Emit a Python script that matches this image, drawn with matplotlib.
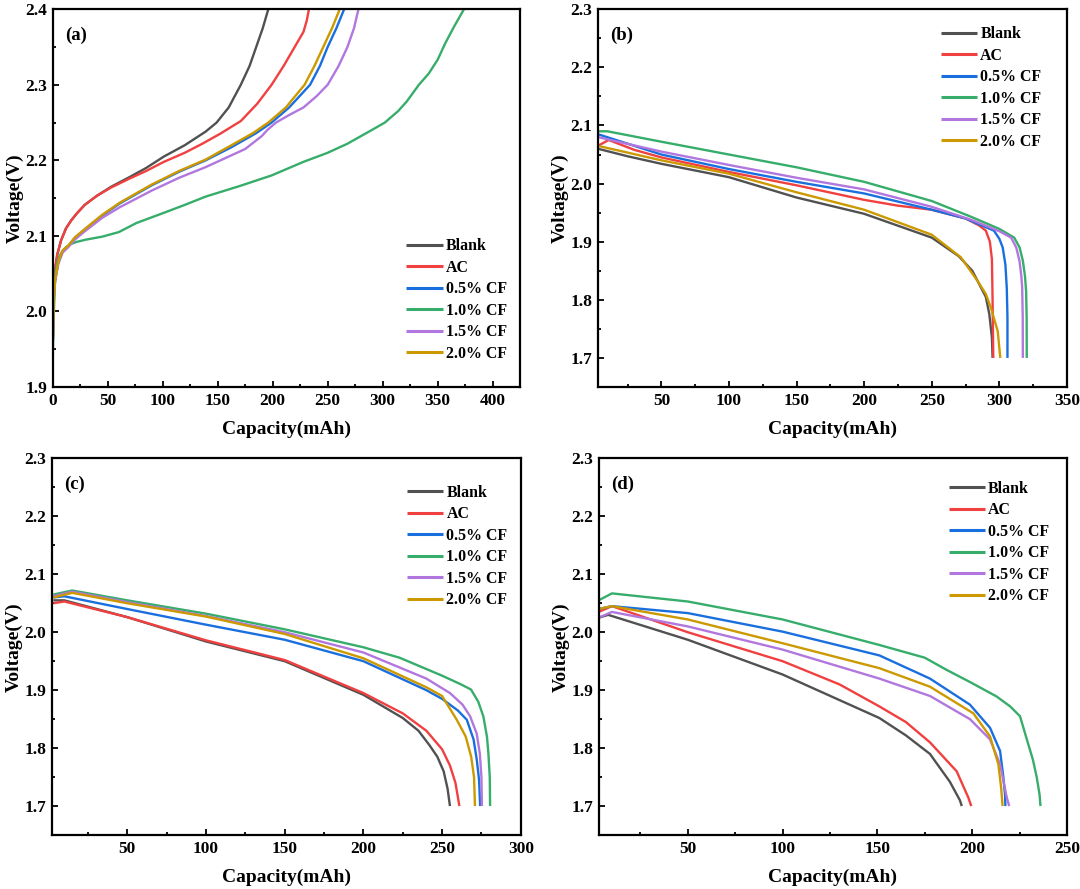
import numpy as np
import matplotlib.pyplot as plt
from matplotlib.ticker import MultipleLocator

plt.rcParams['font.family'] = ['Liberation Serif', 'DejaVu Serif']
plt.rcParams['font.weight'] = 'bold'

labels = ['Blank', 'AC', '0.5% CF', '1.0% CF', '1.5% CF', '2.0% CF']
colors = ['#515151', '#F14040', '#1A6FDF', '#37AD6B', '#B177DE', '#CC9900']

# (a) charge curves, [capacity (mAh), voltage (V)] pairs
a_blank = [[0, 1.96], [0.5, 2.0], [1, 2.03], [2, 2.055], [4, 2.075], [7.5, 2.094], [12, 2.11], [17, 2.121],
           [22, 2.13], [29, 2.141], [40, 2.153], [53, 2.165], [70, 2.178], [85, 2.19], [101, 2.205],
           [120, 2.22], [139, 2.238], [149, 2.25], [160, 2.27], [171, 2.3], [179, 2.325], [185, 2.35],
           [191, 2.375], [196, 2.4]]
a_ac = [[0, 1.96], [0.5, 2.0], [1, 2.03], [2, 2.055], [4, 2.075], [7.5, 2.094], [12, 2.11], [17, 2.121],
        [22, 2.13], [29, 2.141], [40, 2.153], [53, 2.164], [70, 2.176], [85, 2.186], [101, 2.198],
        [120, 2.21], [136, 2.222], [152, 2.235], [171, 2.252], [186, 2.275], [199, 2.3], [210, 2.325],
        [220, 2.35], [228, 2.37], [231, 2.385], [233, 2.4]]
a_cf05 = [[0, 1.96], [1, 2.02], [2, 2.04], [5, 2.065], [9, 2.08], [14, 2.086], [20, 2.097], [29, 2.108],
          [45, 2.127], [61, 2.143], [90, 2.167], [115, 2.185], [139, 2.2], [162, 2.217], [185, 2.236],
          [199, 2.25], [215, 2.27], [234, 2.3], [243, 2.325], [250, 2.35], [258, 2.375], [265, 2.4]]
a_cf10 = [[0, 1.94], [0.5, 1.98], [1, 2.0], [2, 2.04], [2.8, 2.055], [5, 2.07], [7.5, 2.077], [12, 2.085],
          [16, 2.089], [21.6, 2.092], [30, 2.095], [45, 2.099], [60, 2.105], [76, 2.117], [100, 2.13],
          [120, 2.141], [139, 2.152], [170, 2.166], [199, 2.18], [228, 2.198], [250, 2.21], [268, 2.222],
          [290, 2.24], [302, 2.25], [314, 2.265], [322, 2.278], [333, 2.3], [342, 2.315], [350, 2.333],
          [357, 2.355], [365, 2.377], [374, 2.4]]
a_cf15 = [[0, 1.96], [1, 2.02], [2, 2.04], [5, 2.063], [9, 2.078], [14, 2.085], [20, 2.095], [29, 2.106],
          [45, 2.124], [61, 2.138], [90, 2.16], [115, 2.177], [139, 2.191], [160, 2.205], [175, 2.215],
          [190, 2.232], [195, 2.24], [203, 2.25], [215, 2.26], [228, 2.27], [240, 2.285], [250, 2.3],
          [260, 2.325], [268, 2.35], [274, 2.375], [278, 2.4]]
a_cf20 = [[0, 1.96], [1, 2.02], [2, 2.04], [5, 2.066], [9, 2.081], [14, 2.087], [20, 2.098], [29, 2.109],
          [45, 2.128], [61, 2.144], [90, 2.168], [115, 2.186], [139, 2.201], [160, 2.218], [182, 2.236],
          [196, 2.25], [212, 2.27], [229, 2.3], [238, 2.325], [246, 2.35], [254, 2.375], [261, 2.4]]

# (b) discharge curves
b_blank = [[3, 2.06], [25, 2.047], [50, 2.034], [100, 2.011], [150, 1.976], [200, 1.948], [250, 1.907],
           [270, 1.875], [280, 1.85], [284, 1.832], [290, 1.805], [292.6, 1.775], [294.5, 1.735],
           [295, 1.70]]
b_ac = [[3, 2.065], [11, 2.075], [30, 2.058], [50, 2.045], [100, 2.02], [150, 1.997], [200, 1.972],
        [225, 1.962], [250, 1.955], [275, 1.94], [285, 1.928], [290, 1.919], [293, 1.9],
        [294.5, 1.87], [295, 1.80], [295.5, 1.70]]
b_cf05 = [[3, 2.085], [50, 2.05], [100, 2.025], [150, 2.003], [200, 1.983], [250, 1.955], [275, 1.94],
          [290, 1.925], [296, 1.919], [300, 1.905], [302.5, 1.89], [304.5, 1.86], [305.5, 1.82],
          [306, 1.77], [306, 1.70]]
b_cf10 = [[3, 2.09], [10, 2.09], [50, 2.072], [100, 2.05], [150, 2.028], [200, 2.003], [250, 1.97],
          [280, 1.942], [300, 1.922], [311, 1.907], [315, 1.89], [317.4, 1.867], [319, 1.84],
          [319.8, 1.815], [320.2, 1.77], [320.3, 1.70]]
b_cf15 = [[3, 2.08], [50, 2.055], [100, 2.032], [150, 2.01], [200, 1.99], [250, 1.96], [280, 1.937],
          [300, 1.918], [308.7, 1.907], [312.5, 1.89], [314.9, 1.867], [316.3, 1.84], [316.9, 1.821],
          [317.3, 1.77], [317.4, 1.70]]
b_cf20 = [[3, 2.065], [50, 2.04], [100, 2.017], [150, 1.985], [200, 1.955], [250, 1.912], [271.6, 1.873],
          [284, 1.832], [290, 1.81], [293.8, 1.786], [298.8, 1.746], [300.7, 1.70]]

# (c)
c_blank = [[3, 2.055], [10, 2.055], [50, 2.026], [100, 1.984], [150, 1.95], [200, 1.892], [225, 1.852],
           [235, 1.83], [242, 1.805], [247, 1.785], [251, 1.76], [253.5, 1.73], [255, 1.70]]
c_ac = [[3, 2.05], [10, 2.053], [50, 2.026], [100, 1.986], [150, 1.952], [200, 1.895], [225, 1.86],
        [240, 1.83], [250, 1.798], [255, 1.77], [258.5, 1.74], [261, 1.70]]
c_cf05 = [[3, 2.06], [10, 2.062], [50, 2.04], [100, 2.013], [150, 1.987], [200, 1.95], [240, 1.9],
          [250, 1.885], [260, 1.865], [265.7, 1.849], [270, 1.815], [272, 1.781], [273.5, 1.745],
          [274.2, 1.70]]
c_cf10 = [[3, 2.065], [15, 2.072], [50, 2.055], [100, 2.032], [150, 2.005], [200, 1.974], [223, 1.956],
          [250, 1.925], [262, 1.91], [268.4, 1.901], [273, 1.88], [276.2, 1.855], [278.5, 1.82],
          [279.4, 1.792], [280.3, 1.75], [280.5, 1.70]]
c_cf15 = [[3, 2.062], [15, 2.07], [50, 2.052], [100, 2.028], [150, 2.0], [200, 1.965], [240, 1.92],
          [255, 1.895], [263, 1.875], [267.8, 1.855], [272, 1.825], [274, 1.79], [275, 1.75],
          [275.3, 1.70]]
c_cf20 = [[3, 2.06], [15, 2.068], [50, 2.05], [100, 2.027], [150, 1.997], [200, 1.955], [240, 1.905],
          [250, 1.89], [259.3, 1.849], [265, 1.82], [268.5, 1.785], [270.3, 1.75], [270.9, 1.70]]

# (d)
d_blank = [[3, 2.025], [8, 2.03], [50, 1.987], [100, 1.927], [151, 1.852], [165, 1.822], [177.7, 1.79],
           [188.2, 1.742], [193.5, 1.71], [194.5, 1.70]]
d_ac = [[3, 2.035], [10, 2.045], [50, 2.0], [100, 1.95], [130, 1.91], [151, 1.872], [165, 1.845],
        [177.7, 1.81], [191.8, 1.76], [197.9, 1.715], [199.5, 1.70]]
d_cf05 = [[3, 2.04], [10, 2.045], [50, 2.033], [100, 2.001], [151, 1.96], [177.7, 1.92], [198.8, 1.875],
          [209.4, 1.835], [214.7, 1.795], [216.4, 1.75], [217.3, 1.72], [217.5, 1.70]]
d_cf10 = [[3, 2.055], [10, 2.067], [50, 2.053], [100, 2.022], [151, 1.978], [175, 1.956], [186.5, 1.935],
          [200, 1.912], [212.9, 1.889], [220, 1.872], [225.2, 1.855], [228.8, 1.815], [232, 1.78],
          [234, 1.75], [235.5, 1.72], [236, 1.70]]
d_cf15 = [[3, 2.025], [10, 2.035], [50, 2.01], [100, 1.97], [151, 1.92], [177.7, 1.89], [198.8, 1.85],
          [209.4, 1.815], [214.7, 1.772], [218.2, 1.715], [219.5, 1.70]]
d_cf20 = [[3, 2.04], [10, 2.045], [50, 2.022], [100, 1.981], [151, 1.938], [177.7, 1.906], [200.6, 1.86],
          [209.4, 1.82], [213.8, 1.772], [215.3, 1.73], [216, 1.70]]

fig = plt.figure(figsize=(10.8, 8.89), dpi=100)

# tag, curves, axes rect, xlim, ylim, legend anchor (upper-left corner, axes fraction)
panels = [
    ('(a)', [a_blank, a_ac, a_cf05, a_cf10, a_cf15, a_cf20], [0.0489, 0.5647, 0.4326, 0.4249],
     (0, 425), (1.9, 2.4), (0.757, 0.394)),
    ('(b)', [b_blank, b_ac, b_cf05, b_cf10, b_cf15, b_cf20], [0.5536, 0.5647, 0.4343, 0.4249],
     (3, 350), (1.65, 2.3), (0.731, 0.955)),
    ('(c)', [c_blank, c_ac, c_cf05, c_cf10, c_cf15, c_cf20], [0.0479, 0.0607, 0.4343, 0.4237],
     (2, 300), (1.65, 2.3), (0.757, 0.930)),
    ('(d)', [d_blank, d_ac, d_cf05, d_cf10, d_cf15, d_cf20], [0.5543, 0.0607, 0.4337, 0.4237],
     (3, 250), (1.65, 2.3), (0.747, 0.9405)),
]

for tag, curves, pos, xl, yl, anchor in panels:
    ax = fig.add_axes(pos)
    for pts, c, lab in zip(curves, colors, labels):
        pts = np.array(pts)
        ax.plot(pts[:, 0], pts[:, 1], color=c, lw=1.7, label=lab,
                solid_joinstyle='round', solid_capstyle='butt')
    ax.set_xlim(*xl)
    ax.set_ylim(*yl)
    ax.xaxis.set_major_locator(MultipleLocator(50))
    ax.xaxis.set_minor_locator(MultipleLocator(25))
    ax.yaxis.set_major_locator(MultipleLocator(0.1))
    ax.yaxis.set_minor_locator(MultipleLocator(0.05))
    ax.yaxis.set_major_formatter(plt.FormatStrFormatter('%.1f'))
    ax.tick_params(which='both', direction='in', width=1.3, labelsize=12.5, pad=4)
    ax.tick_params(which='major', length=4)
    ax.tick_params(which='minor', length=2.5)
    for s in ax.spines.values():
        s.set_linewidth(1.6)
    ax.set_xlabel('Capacity(mAh)', fontsize=14, fontweight='bold', labelpad=9)
    ax.set_ylabel('Voltage(V)', fontsize=14, fontweight='bold', labelpad=1)
    ax.text(0.026, 0.932, tag, transform=ax.transAxes, fontsize=13.5, fontweight='bold', va='center')
    leg = ax.legend(loc='upper left', bbox_to_anchor=anchor, frameon=False, fontsize=11.4,
                    handlelength=2.3, handletextpad=0.2, labelspacing=0.35,
                    borderaxespad=0, borderpad=0)
    for line in leg.get_lines():
        line.set_linewidth(2.2)

fig.savefig('out.png', dpi=100)
